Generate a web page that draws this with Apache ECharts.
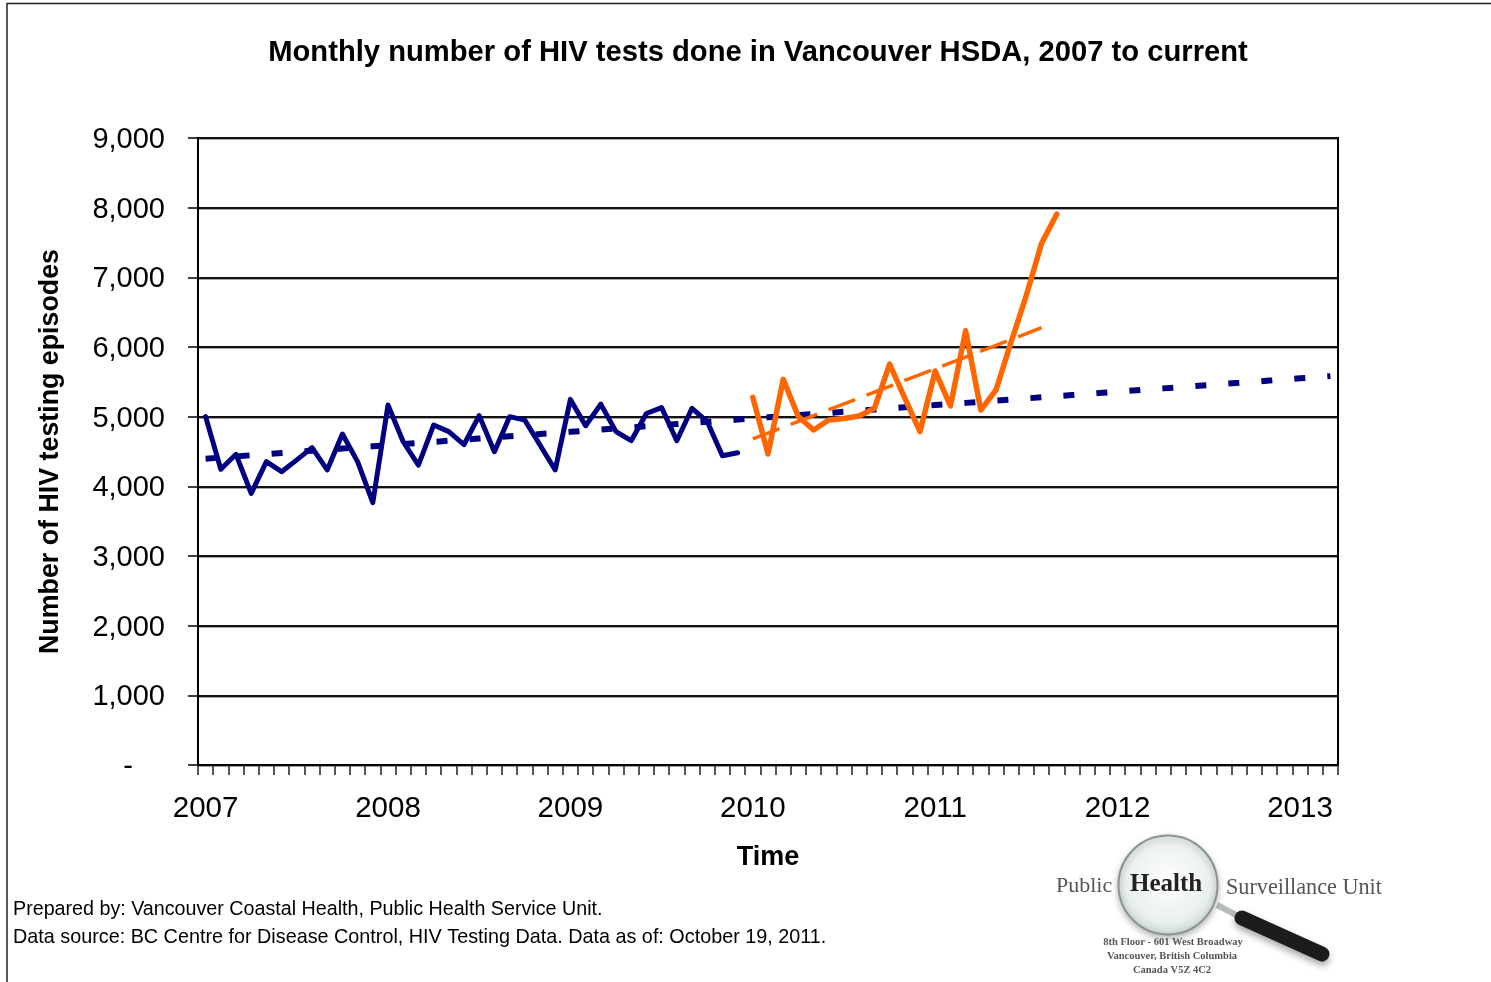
<!DOCTYPE html>
<html>
<head>
<meta charset="utf-8">
<style>html,body{margin:0;padding:0;background:#fff}#c{width:1491px;height:982px}</style>
<script src="https://cdn.jsdelivr.net/npm/echarts@6/dist/echarts.min.js"></script>
</head>
<body>
<div id="c"></div>
<script>
const years = [2007, 2008, 2009, 2010, 2011, 2012, 2013];
const monthsPerYear = 12;
const totalMonths = 75;

const tests2007to2009 = [
  5000, 4245, 4460, 3900, 4355, 4210, 4380, 4555, 4235, 4750, 4355, 3765,
  5167, 4640, 4305, 4880, 4785, 4600, 5015, 4497, 5000, 4950, 4593, 4235,
  5248, 4870, 5180, 4785, 4655, 5046, 5130, 4655, 5120, 4930, 4440, 4483
];
const tests2010on = [
  5277, 4464, 5535, 5000, 4808, 4952, 4975, 5009, 5120, 5755, 5267, 4785,
  5655, 5153, 6233, 5095, 5383, 6075, 6746, 7488, 7908
];
const trendBaseline = [
  4397, 4413, 4430, 4446, 4462, 4478, 4494, 4510, 4526, 4542, 4558, 4574,
  4590, 4606, 4622, 4638, 4654, 4670, 4686, 4702, 4718, 4734, 4750, 4766,
  4782, 4798, 4814, 4830, 4846, 4862, 4878, 4894, 4910, 4926, 4942, 4958,
  4974, 4990, 5006, 5022, 5038, 5054, 5070, 5086, 5102, 5118, 5134, 5150,
  5166, 5182, 5198, 5214, 5230, 5246, 5262, 5278, 5294, 5310, 5326, 5342,
  5358, 5374, 5390, 5406, 5422, 5438, 5454, 5470, 5486, 5502, 5518, 5534,
  5550, 5566, 5582
];
const trend2010on = [
  4680, 4764, 4848, 4932, 5016, 5100, 5184, 5268, 5352, 5436, 5520, 5604,
  5688, 5772, 5856, 5940, 6024, 6108, 6192, 6277
];

const categories = [];
for (let i = 0; i < totalMonths; i++) {
  categories.push(String(years[Math.floor(i / monthsPerYear)]) + '-' + String(i % monthsPerYear + 1).padStart(2, '0'));
}
const pad = (arr, before) => {
  const out = new Array(totalMonths).fill(null);
  arr.forEach((v, i) => { out[before + i] = v; });
  return out;
};
const FONT = '"Liberation Sans", Arial, sans-serif';
const SERIF = '"Liberation Serif", "Times New Roman", serif';
const blur = { shadowColor: 'rgba(60,60,60,0.55)', shadowBlur: 2 };

const logo = [
  { type: 'line', z: 50, shape: { x1: 1217, y1: 905, x2: 1242, y2: 918 }, style: { stroke: '#b9bdbd', lineWidth: 6 } },
  { type: 'line', z: 51, shape: { x1: 1242, y1: 918, x2: 1322, y2: 954 },
    style: { stroke: '#1c1c1c', lineWidth: 15, lineCap: 'round', shadowColor: 'rgba(0,0,0,0.35)', shadowBlur: 7, shadowOffsetY: 4 } },
  { type: 'circle', z: 52, shape: { cx: 1168, cy: 885, r: 49.5 },
    style: {
      fill: { type: 'radial', x: 0.5, y: 0.45, r: 0.6, colorStops: [
        { offset: 0, color: '#ffffff' }, { offset: 0.7, color: '#e9f0ec' }, { offset: 1, color: '#bfccc7' }] },
      stroke: '#8a9593', lineWidth: 2, shadowColor: 'rgba(0,0,0,0.25)', shadowBlur: 6, shadowOffsetY: 3 } },
  { type: 'text', z: 53, x: 1056, y: 886, style: Object.assign({ text: 'Public', font: '22px ' + SERIF, fill: '#555', textVerticalAlign: 'middle' }, blur) },
  { type: 'text', z: 53, x: 1130, y: 885, style: Object.assign({ text: 'Health', font: 'bold 25px ' + SERIF, fill: '#222', textVerticalAlign: 'middle' }, blur) },
  { type: 'text', z: 53, x: 1226, y: 888, style: Object.assign({ text: 'Surveillance Unit', font: '22.2px ' + SERIF, fill: '#555', textVerticalAlign: 'middle' }, blur) },
  { type: 'text', z: 53, x: 1173, y: 942, style: Object.assign({ text: '8th Floor - 601 West Broadway', font: 'bold 10.5px ' + SERIF, fill: '#555', textAlign: 'center', textVerticalAlign: 'middle' }, blur) },
  { type: 'text', z: 53, x: 1172, y: 956, style: Object.assign({ text: 'Vancouver, British Columbia', font: 'bold 10.5px ' + SERIF, fill: '#555', textAlign: 'center', textVerticalAlign: 'middle' }, blur) },
  { type: 'text', z: 53, x: 1172, y: 970, style: Object.assign({ text: 'Canada V5Z 4C2', font: 'bold 10.5px ' + SERIF, fill: '#555', textAlign: 'center', textVerticalAlign: 'middle' }, blur) }
];

const chart = echarts.init(document.getElementById('c'), null, { renderer: 'canvas' });
chart.setOption({
  animation: false,
  backgroundColor: '#fff',
  title: {
    text: 'Monthly number of HIV tests done in Vancouver HSDA, 2007 to current',
    left: 753, top: 33, textAlign: 'center',
    textStyle: { fontFamily: FONT, fontWeight: 'bold', fontSize: 29.2, color: '#000' }
  },
  grid: { left: 198, top: 138, width: 1140, height: 627, show: true, borderColor: '#000', borderWidth: 2, backgroundColor: '#fff' },
  xAxis: {
    type: 'category', data: categories, boundaryGap: true,
    name: 'Time', nameLocation: 'middle', nameGap: 79,
    nameTextStyle: { fontFamily: FONT, fontWeight: 'bold', fontSize: 27, color: '#000' },
    axisLine: { lineStyle: { color: '#000', width: 2 } },
    axisTick: { show: true, interval: 0, length: 10, lineStyle: { color: '#222', width: 1.5 } },
    axisLabel: {
      interval: monthsPerYear - 1, margin: 29, fontFamily: FONT, fontSize: 29.5, color: '#000',
      formatter: v => v.slice(0, 4)
    },
    splitLine: { show: false }
  },
  yAxis: {
    type: 'value', min: 0, max: 9000, interval: 1000,
    name: 'Number of HIV testing episodes', nameLocation: 'middle', nameGap: 134, nameRotate: 90,
    nameTextStyle: { fontFamily: FONT, fontWeight: 'bold', fontSize: 26.8, color: '#000' },
    axisLine: { show: true, onZero: false, lineStyle: { color: '#000', width: 2 } },
    axisTick: { show: true, length: 10, lineStyle: { color: '#000', width: 1.5 } },
    axisLabel: {
      margin: 33, fontFamily: FONT, fontSize: 29, color: '#000',
      formatter: v => v === 0 ? '{dash|-}' : '{num|' + v.toLocaleString('en-US') + '}',
      rich: {
        num: { fontFamily: FONT, fontSize: 29, color: '#000', padding: [4, 0, 0, 0] },
        dash: { fontFamily: FONT, fontSize: 29, color: '#000', padding: [4, 32, 0, 0] }
      }
    },
    splitLine: { show: true, lineStyle: { color: '#111', width: 2, shadowColor: 'rgba(0,0,0,0.35)', shadowBlur: 0, shadowOffsetY: 1 } }
  },
  series: [
    { name: 'Baseline trend', type: 'line', data: trendBaseline, showSymbol: false, silent: true, z: 3,
      lineStyle: { color: '#000080', width: 6, type: [11, 22.08], cap: 'butt' } },
    { name: 'Tests 2010 onward trend', type: 'line', data: pad(trend2010on, 36), showSymbol: false, silent: true, z: 4,
      lineStyle: { color: '#FF6600', width: 3.5, type: [28.5, 12.1], cap: 'butt' } },
    { name: 'Tests 2007-2009', type: 'line', data: pad(tests2007to2009, 0), showSymbol: false, silent: true, z: 5,
      lineStyle: { color: '#000080', width: 5, cap: 'round', join: 'round' } },
    { name: 'Tests 2010 onward', type: 'line', data: pad(tests2010on, 36), showSymbol: false, silent: true, z: 6,
      lineStyle: { color: '#FF6600', width: 5.5, cap: 'round', join: 'round' } }
  ],
  graphic: [
    { type: 'polyline', z: 40, shape: { points: [[7, 982], [7, 3.5], [1491, 3.5]] }, style: { fill: 'none', stroke: '#222', lineWidth: 1.5 } },
    { type: 'text', z: 40, x: 13, y: 910, style: { text: 'Prepared by: Vancouver Coastal Health, Public Health Service Unit.', font: '19.7px ' + FONT, fill: '#000', textVerticalAlign: 'middle' } },
    { type: 'text', z: 40, x: 13, y: 938, style: { text: 'Data source: BC Centre for Disease Control, HIV Testing Data. Data as of: October 19, 2011.', font: '19.8px ' + FONT, fill: '#000', textVerticalAlign: 'middle' } }
  ].concat(logo)
});
</script>
</body>
</html>
